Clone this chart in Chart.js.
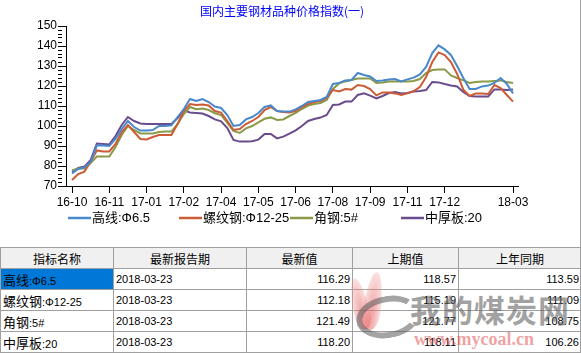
<!DOCTYPE html>
<html>
<head>
<meta charset="utf-8">
<script src="https://cdn.jsdelivr.net/npm/chart.js@4/dist/chart.umd.min.js"></script>
<style>
  body { margin: 0; background: #fff; font-family: "Liberation Sans", "Noto Sans CJK SC", sans-serif; }
  #wrap { position: relative; width: 581px; height: 353px; overflow: hidden; border-right: 1px solid #a0a0a0; box-sizing: border-box; }
  #chart { position: absolute; left: 0; top: 0; }
  table { position: absolute; left: 0; top: 247px; border-collapse: collapse; table-layout: fixed; width: 581px; font-size: 11px; }
  th, td { border: 1px solid #a0a0a0; height: 20px; padding: 0 2px; white-space: nowrap; overflow: hidden; }
  th { background: #f0f0f0; font-weight: normal; font-size: 12px; font-family: "Noto Sans CJK SC", sans-serif; }
  td.num { text-align: right; }
  td.sel { background: #0078d7; }
  .cjk { font-family: "Noto Sans CJK SC", sans-serif; font-size: 13px; }
  .wm1 { position: absolute; left: 410px; top: 286px; font: bold 31px "Noto Sans CJK SC", sans-serif; color: rgba(100,100,100,0.6); letter-spacing: 1px; pointer-events: none; }
  .wm2 { position: absolute; left: 414px; top: 329px; font: bold 18px "Liberation Serif", serif; color: rgba(230,80,80,0.55); pointer-events: none; }
  .arc { position: absolute; left: 356px; top: 296px; width: 52px; height: 30px; border: 6px solid rgba(90,90,90,0.55); border-right-color: transparent; border-radius: 50%; transform: rotate(-10deg); pointer-events: none; }
  .flame { position: absolute; border-radius: 50% 50% 45% 45% / 70% 70% 30% 30%; background: radial-gradient(ellipse at 50% 80%, rgba(230,90,90,0.6), rgba(240,150,150,0.3) 70%, rgba(255,255,255,0) 100%); pointer-events: none; }
</style>
</head>
<body>
<div id="wrap">
  <canvas id="chart" width="581" height="240"></canvas>
  <table>
    <colgroup><col style="width:113px"><col style="width:133px"><col style="width:106px"><col style="width:106px"><col style="width:123px"></colgroup>
    <tr><th>指标名称</th><th>最新报告期</th><th>最新值</th><th>上期值</th><th>上年同期</th></tr>
    <tr><td class="sel"><span class="cjk">高线</span>:Φ6.5</td><td>2018-03-23</td><td class="num">116.29</td><td class="num">118.57</td><td class="num">113.59</td></tr>
    <tr><td><span class="cjk">螺纹钢</span>:Φ12-25</td><td>2018-03-23</td><td class="num">112.18</td><td class="num">115.19</td><td class="num">111.09</td></tr>
    <tr><td><span class="cjk">角钢</span>:5#</td><td>2018-03-23</td><td class="num">121.49</td><td class="num">121.77</td><td class="num">108.75</td></tr>
    <tr><td><span class="cjk">中厚板</span>:20</td><td>2018-03-23</td><td class="num">118.20</td><td class="num">118.11</td><td class="num">106.26</td></tr>
  </table>
  <div class="flame" style="left:352px; top:278px; width:16px; height:52px; transform: rotate(-12deg);"></div>
  <div class="flame" style="left:364px; top:272px; width:18px; height:58px; transform: rotate(8deg);"></div>
  <div class="arc"></div>
  <div class="wm1">我的煤炭网</div>
  <div class="wm2">www.mycoal.cn</div>
</div>
<script>
const title = '国内主要钢材品种价格指数(一)';
const seriesNames = ['高线:Φ6.5', '螺纹钢:Φ12-25', '角钢:5#', '中厚板:20'];
const seriesColors = ['#4a88cc', '#cc5c36', '#8a9a48', '#6a4c8c'];

// x tick labels and the week index they sit on
const tickLabels = ['16-10', '16-11', '17-01', '17-02', '17-04', '17-05', '17-06', '17-08', '17-09', '17-11', '17-12', '18-03'];
const tickIndex = [0, 6, 12, 18, 24, 30, 36, 42, 48, 54, 60, 71];

// weekly index values
const gaoxian = [76.3, 78.5, 79.3, 82, 90.3, 90.2, 90, 93.5, 98.5, 102.5, 99.5, 97.7, 97.8, 98, 100, 100, 100.3, 104.5,
  108.5, 113.5, 112.5, 113.5, 112, 109.7, 109, 105.5, 100, 100.5, 103.3, 104.5, 106.5, 109.5, 110.3, 107.5, 107.2, 107.2,
  108.3, 110, 112, 112.5, 113, 114.5, 121, 121.5, 122.8, 123, 126.5, 125.5, 124.8, 122.5, 122.8, 123.3, 123.5, 122.3,
  123.3, 124.2, 125.8, 129.5, 136.5, 140.3, 138.3, 135.5, 130, 124, 118.5, 118.5, 119.8, 120.2, 121.5, 124, 121, 116.29];
const luowen = [73, 76, 77.2, 82.3, 87.8, 87.3, 87.3, 91, 97, 100.5, 97, 93.5, 93.3, 94.5, 95.5, 95.5, 95.5, 101,
  107.5, 111, 110.5, 110.8, 110.3, 107.5, 106.7, 102.5, 98, 98.5, 101, 102.5, 104.5, 108, 109.5, 107.5, 107, 106.7,
  107.5, 109.5, 111, 112, 112.5, 114, 118, 117.3, 118.5, 118.2, 120.5, 120, 118.5, 115.3, 116.8, 116.8, 116.3, 115.5,
  116.3, 117.5, 119.5, 124.5, 132, 136.8, 135.5, 132, 126, 118.2, 115, 116.3, 116.2, 116, 120.5, 119, 115.5, 112.18];
const jiaogang = [77.8, 78.8, 78.8, 81.5, 84.7, 84.7, 84.7, 89.5, 95.5, 100, 98, 96.3, 96.3, 96.3, 97, 97.2, 97.2, 101,
  106, 109.5, 108.4, 108.7, 108, 106.4, 105.5, 101.5, 97.5, 96.5, 98.8, 100, 101.8, 103.6, 104.3, 103, 103.3, 105,
  106.5, 108.5, 110.2, 111, 111.5, 113, 118.5, 121.3, 122.3, 123, 123.7, 123.8, 123.8, 121.5, 121.8, 122.2, 122.2, 122.2,
  122.2, 122.5, 123.5, 126.5, 128, 128.2, 128.3, 125.3, 124, 122.8, 121.5, 122, 122.2, 122.2, 122.5, 122.8, 122, 121.49];
const zhonghouban = [77.2, 79, 79.7, 83, 91.2, 91, 90.8, 95, 100.5, 104.5, 102.5, 101.3, 101, 101, 101, 101, 101, 104,
  107.8, 106.8, 106.5, 106.2, 105, 103.3, 102.3, 99, 93, 92.2, 92.2, 92.4, 93.2, 96, 96, 93.8, 94.7, 96.2,
  97.8, 100, 102.5, 103.5, 104.2, 105.5, 110.5, 110.8, 112.2, 112.2, 115.5, 116.3, 115.2, 113.8, 115, 116.5, 117, 116.3,
  116.5, 117.2, 117.5, 118, 122, 121.8, 121, 120.3, 119.8, 117, 115, 114.7, 114.7, 114.7, 118.3, 118.2, 118, 118.2];

const allSeries = [gaoxian, luowen, jiaogang, zhonghouban];

Chart.defaults.font.family = '"Liberation Sans", "Noto Sans CJK SC", sans-serif';
Chart.defaults.font.size = 12;
Chart.defaults.color = '#000';

// title + fixed-column legend, like the original
const chrome = {
  id: 'chrome',
  afterDraw(chart) {
    const c = chart.ctx;
    c.save();
    c.font = '12px "Noto Sans CJK SC", sans-serif';
    c.fillStyle = '#0000ff';
    c.textAlign = 'center';
    c.textBaseline = 'middle';
    c.fillText(title, 282, 11);
    c.font = '13px "Liberation Sans", "Noto Sans CJK SC", sans-serif';
    c.textAlign = 'left';
    chart.data.datasets.forEach((ds, i) => {
      const x = 68 + i * 111;
      const y = 218;
      c.strokeStyle = ds.borderColor;
      c.lineWidth = 2.5;
      c.beginPath();
      c.moveTo(x, y);
      c.lineTo(x + 23, y);
      c.stroke();
      c.fillStyle = '#000';
      c.fillText(ds.label, x + 24, y);
    });
    c.restore();
  }
};

new Chart(document.getElementById('chart'), {
  type: 'line',
  data: {
    datasets: allSeries.map((s, i) => ({
      label: seriesNames[i],
      data: s.map((v, j) => ({ x: j, y: v })),
      borderColor: seriesColors[i],
      borderWidth: 2,
      pointRadius: 0,
      tension: 0,
      fill: false
    }))
  },
  options: {
    responsive: false,
    animation: false,
    devicePixelRatio: 1,
    layout: { padding: { top: 26, left: 0, right: 63, bottom: 30 } },
    plugins: { legend: { display: false }, title: { display: false }, tooltip: { enabled: false } },
    scales: {
      x: {
        type: 'linear',
        min: -0.97,
        max: 71.8,
        afterFit: (s) => { s.height = 24; },
        afterBuildTicks: (s) => { s.ticks = tickIndex.map(v => ({ value: v })); },
        border: { color: '#000', width: 1 },
        grid: { drawOnChartArea: false, tickLength: 7, tickColor: '#000' },
        ticks: {
          autoSkip: false,
          maxRotation: 0,
          padding: 2,
          callback: (v) => tickLabels[tickIndex.indexOf(v)] || ''
        }
      },
      y: {
        min: 70,
        max: 150,
        afterFit: (s) => { s.width = 66; },
        border: { color: '#000', width: 1 },
        grid: {
          drawOnChartArea: false,
          tickLength: 8,
          tickColor: '#000',
          tickBorderDash: (ctx) => (ctx.tick && ctx.tick.value % 10 === 0) ? [] : [4, 20]
        },
        ticks: {
          stepSize: 2,
          autoSkip: false,
          padding: 1,
          callback: (v) => v % 10 === 0 ? v : ''
        }
      }
    }
  },
  plugins: [chrome]
});
</script>
</body>
</html>
